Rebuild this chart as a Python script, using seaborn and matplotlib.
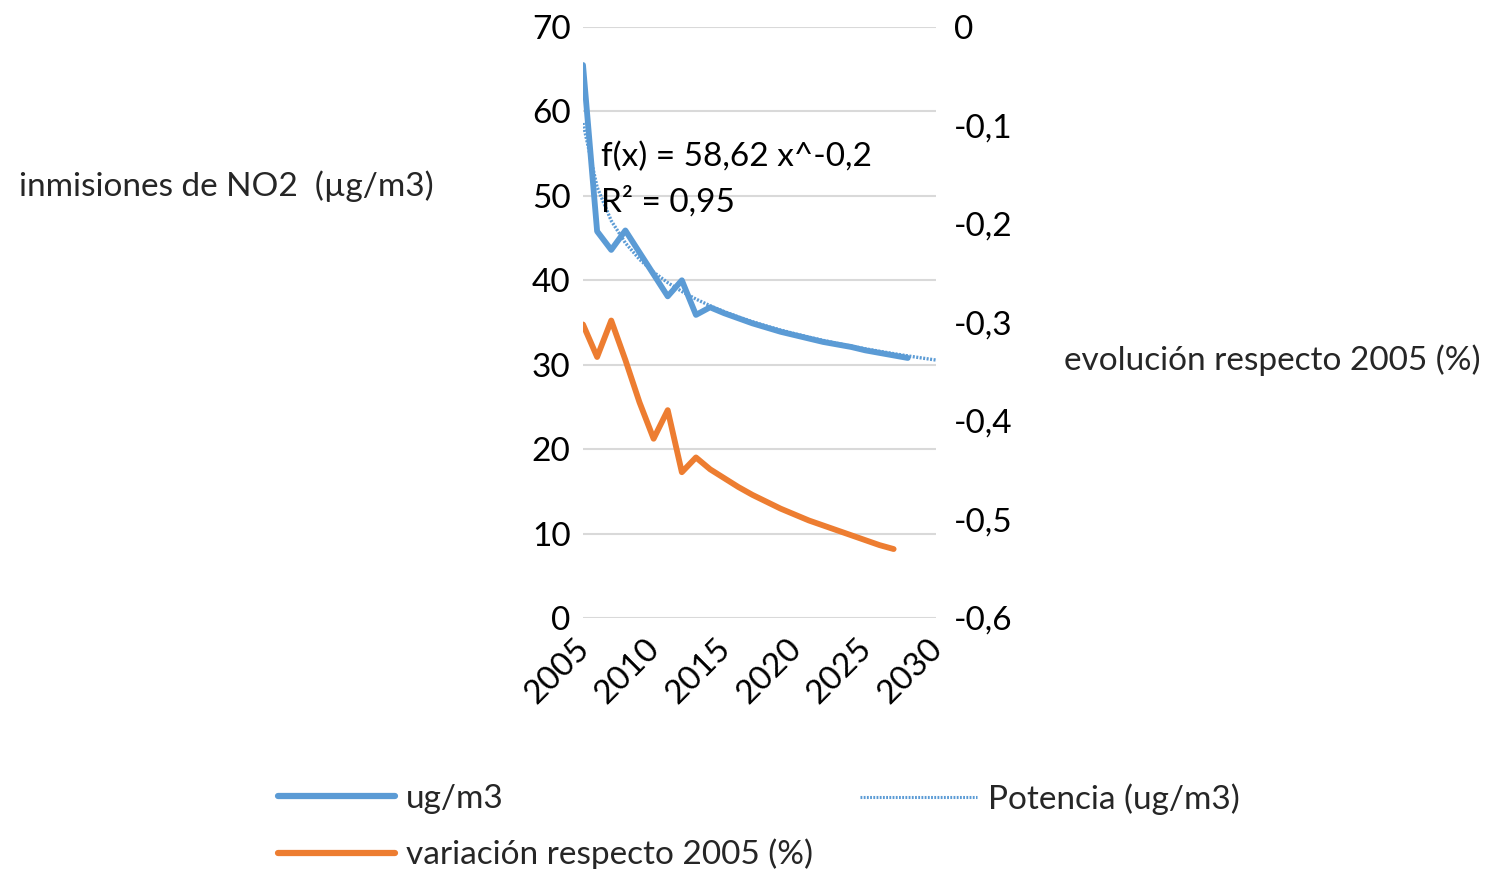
import numpy as np
import pandas as pd
import matplotlib
matplotlib.use("Agg")
import matplotlib.pyplot as plt
import matplotlib.transforms as mtransforms
import seaborn as sns
from matplotlib.ticker import FuncFormatter
from matplotlib.lines import Line2D

# ---- data ----
years_no2 = list(range(2005, 2029))
no2_ugm3 = [65.5, 45.8, 43.6, 45.9, 43.3, 40.7, 38.1, 40.0, 35.9, 36.8,
            36.1, 35.5, 34.9, 34.4, 33.9, 33.5, 33.1, 32.7, 32.4, 32.1,
            31.7, 31.4, 31.1, 30.8]
years_var = list(range(2005, 2028))
var_2005 = [-0.302, -0.335, -0.298, -0.338, -0.381, -0.418, -0.389, -0.452,
            -0.437, -0.449, -0.458, -0.467, -0.475, -0.482, -0.489, -0.495,
            -0.501, -0.506, -0.511, -0.516, -0.521, -0.526, -0.530]
trend_years = list(range(2005, 2031))
trend_coef = 58.62
trend_exp = -0.2
left_ticks = [0, 10, 20, 30, 40, 50, 60, 70]
right_ticks = [-0.6, -0.5, -0.4, -0.3, -0.2, -0.1, 0.0]
x_ticks = [2005, 2010, 2015, 2020, 2025, 2030]

BLUE = "#5B9BD5"
ORANGE = "#ED7D31"
GRID = "#D9D9D9"
FS = 24
DOT = (0, (0.6, 0.45))

sns.set_theme(style="white")
plt.rcParams['font.family'] = ['Lato', 'DejaVu Sans']

df_no2 = pd.DataFrame({"year": years_no2, "val": no2_ugm3})
df_var = pd.DataFrame({"year": years_var, "val": var_2005})
tx = np.array(trend_years)
df_tr = pd.DataFrame({"year": tx, "val": trend_coef * (tx - 2004.0) ** trend_exp})

fig = plt.figure(figsize=(14.94, 8.69), dpi=100)
ax = fig.add_axes([583/1494, 1-618/869, (936-583)/1494, (618-27)/869])
ax2 = ax.twinx()

sns.lineplot(data=df_no2, x="year", y="val", ax=ax, color=BLUE, lw=4.2,
             label="ug/m3", legend=False, zorder=3)
sns.lineplot(data=df_tr, x="year", y="val", ax=ax, color=BLUE, lw=2.4,
             linestyle=DOT, label="Potencia (ug/m3)", legend=False, zorder=4)
sns.lineplot(data=df_var, x="year", y="val", ax=ax2, color=ORANGE, lw=4.2,
             label="variación respecto 2005 (%)", legend=False, zorder=3)

ax.set_xlim(2005, 2030)
ax.set_ylim(0, 70)
ax2.set_ylim(-0.6, 0)
ax.set_xticks(x_ticks)
ax.set_yticks(left_ticks)
ax2.set_yticks(right_ticks)
ax.yaxis.grid(True, color=GRID, lw=1.5)
ax.xaxis.grid(False)
ax2.grid(False)
for a in (ax, ax2):
    for s in a.spines.values():
        s.set_visible(False)
    a.set_xlabel("")
    a.set_ylabel("")
ax.set_facecolor("none")

ax2.yaxis.set_major_formatter(FuncFormatter(
    lambda v, p: "0" if abs(v) < 1e-9 else f"{v:.1f}".replace(".", ",")))
ax.tick_params(axis="y", length=0, pad=9, labelsize=FS, colors="black")
ax2.tick_params(axis="y", length=0, pad=13, labelsize=FS, colors="black")
ax.tick_params(axis="x", length=0, pad=6, labelsize=FS, colors="black")
shift = mtransforms.ScaledTranslation(-9/100, -7/100, fig.dpi_scale_trans)
for lbl in ax.get_xticklabels():
    lbl.set_rotation(45)
    lbl.set_ha("right")
    lbl.set_va("top")
    lbl.set_rotation_mode("anchor")
    lbl.set_transform(lbl.get_transform() + shift)

ax.text(2005 + (601-583)/14.12, 54.6, "f(x) = 58,62 x^-0,2", fontsize=FS,
        ha="left", va="center", color="black", zorder=6)
ax.text(2005 + (601-583)/14.12, 49.3, "R² = 0,95", fontsize=FS,
        ha="left", va="center", color="black", zorder=6)

fig.text(226/1494, 1-186/869, "inmisiones de NO2  (µg/m3)", fontsize=FS,
         ha="center", va="center")
fig.text(1272/1494, 1-360/869, "evolución respecto 2005 (%)", fontsize=FS,
         ha="center", va="center")

hb = Line2D([], [], color=BLUE, lw=4.5)
ho = Line2D([], [], color=ORANGE, lw=4.5)
hp = Line2D([], [], color=BLUE, lw=2.2, linestyle=DOT)
leg1 = fig.legend([hb, ho], ["ug/m3", "variación respecto 2005 (%)"],
                  loc="upper left", bbox_to_anchor=(278/1494, 1-784/869),
                  frameon=False, fontsize=FS, handlelength=3.5, handletextpad=0.35,
                  labelspacing=0.74, borderpad=0, borderaxespad=0)
leg2 = fig.legend([hp], ["Potencia (ug/m3)"],
                  loc="upper left", bbox_to_anchor=(860/1494, 1-783/869),
                  frameon=False, fontsize=FS, handlelength=3.5, handletextpad=0.35,
                  borderpad=0, borderaxespad=0)

fig.savefig("out.png", dpi=100, facecolor="white")
